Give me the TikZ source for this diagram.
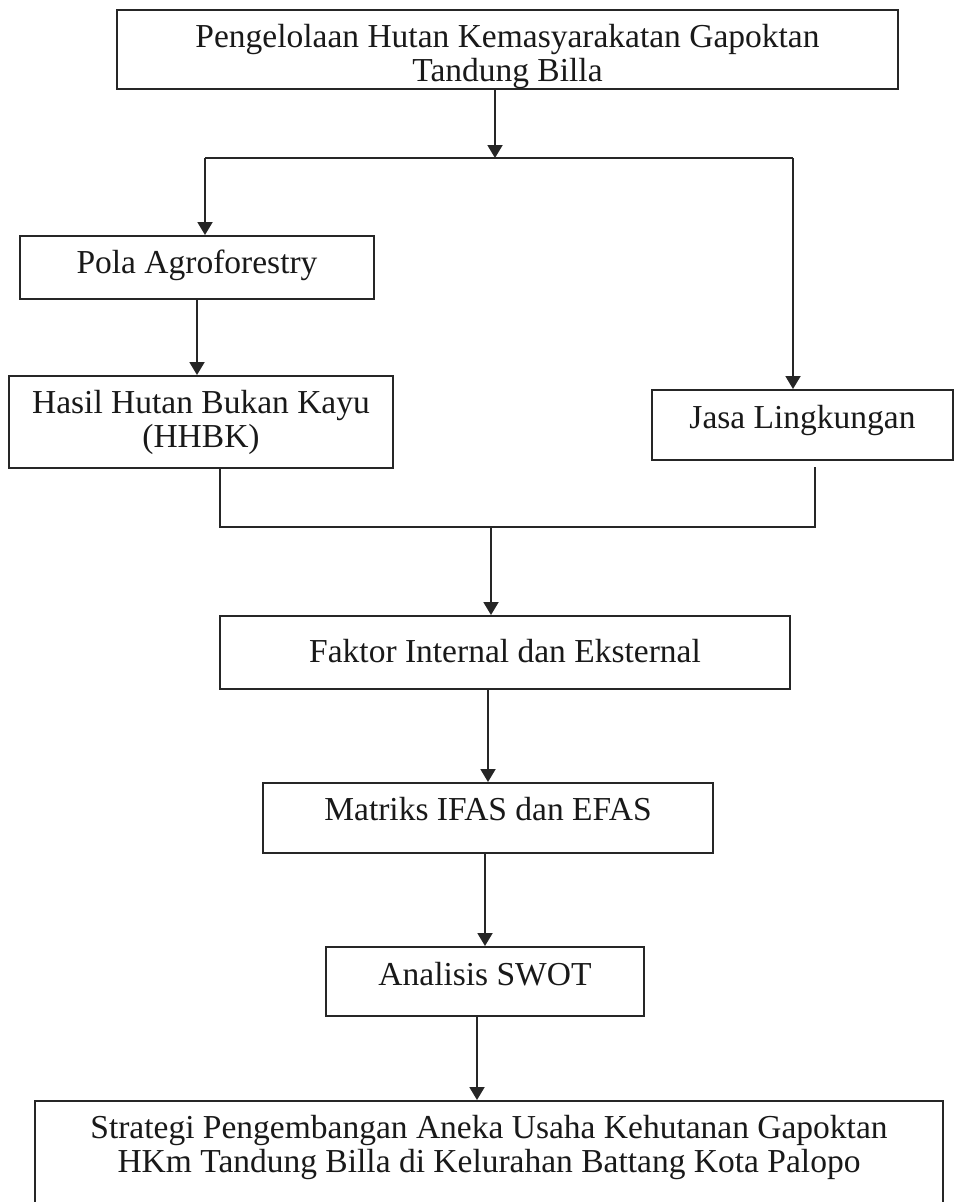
\documentclass[tikz,border=0pt]{standalone}
\usepackage{fontspec}
\setmainfont{Liberation Serif}
\usetikzlibrary{arrows.meta,calc}
\newcommand\diagfont{\fontsize{33.5pt}{34pt}\selectfont}
\newcommand\boxtxt[4]{\parbox[t][#2][t]{#1}{\centering\diagfont\rule{0pt}{#3}#4\par}}
\tikzset{
  box/.style={draw=black!85, line width=1.9pt, inner sep=0pt, anchor=north, text=black!90},
  conn/.style={draw=black!85, line width=1.9pt},
  arr/.style={conn, -{Triangle[width=15pt,length=13pt]}},
}
\begin{document}
\begin{tikzpicture}[x=1pt,y=-1pt]
\fill[white] (0,0) rectangle (955,1202);
\useasboundingbox (0,0) rectangle (955,1202);

\node[box] (top) at (507.5,9) {\boxtxt{781pt}{79pt}{38pt}{Pengelolaan Hutan Kemasyarakatan Gapoktan\\Tandung Billa}};
\node[box] (pola) at (197,235) {\boxtxt{354pt}{63pt}{38pt}{Pola Agroforestry}};
\node[box] (hhbk) at (201,375) {\boxtxt{384pt}{92pt}{38pt}{Hasil Hutan Bukan Kayu\\(HHBK)}};
\node[box] (jasa) at (802.5,389) {\boxtxt{301pt}{70pt}{39pt}{Jasa Lingkungan}};
\node[box] (faktor) at (505,615) {\boxtxt{570pt}{73pt}{47pt}{Faktor Internal dan Eksternal}};
\node[box] (matriks) at (488,782) {\boxtxt{450pt}{70pt}{38pt}{Matriks IFAS dan EFAS}};
\node[box] (swot) at (485,946) {\boxtxt{318pt}{69pt}{39pt}{Analisis SWOT}};
\node[box] (final) at (489,1100) {\boxtxt{908pt}{140pt}{38pt}{Strategi Pengembangan Aneka Usaha Kehutanan Gapoktan\\HKm Tandung Billa di Kelurahan Battang Kota Palopo}};

\coordinate (sM) at (495,158);
\coordinate (sL) at (205,158);
\coordinate (sR) at (793,158);
\draw[arr] (top.south -| sM) -- (sM);
\draw[conn] (sL) -- (sR);
\draw[arr] (sL) -- (sL |- pola.north);
\draw[arr] (sR) -- (sR |- jasa.north);
\draw[arr] (pola.south) -- (hhbk.north -| pola.south);

\coordinate (jL) at (220,527);
\coordinate (jR) at (815,527);
\coordinate (jM) at (491,527);
\draw[conn] (hhbk.south -| jL) -- (jL) -- (jR) -- ($(jasa.south -| jR)+(0,6)$);
\draw[arr] (jM) -- (jM |- faktor.north);
\draw[arr] (matriks.north |- faktor.south) -- (matriks.north);
\draw[arr] (swot.north |- matriks.south) -- (swot.north);
\coordinate (sw) at ($(swot.south)+(-8,0)$);
\draw[arr] (sw) -- (sw |- final.north);
\end{tikzpicture}
\end{document}
